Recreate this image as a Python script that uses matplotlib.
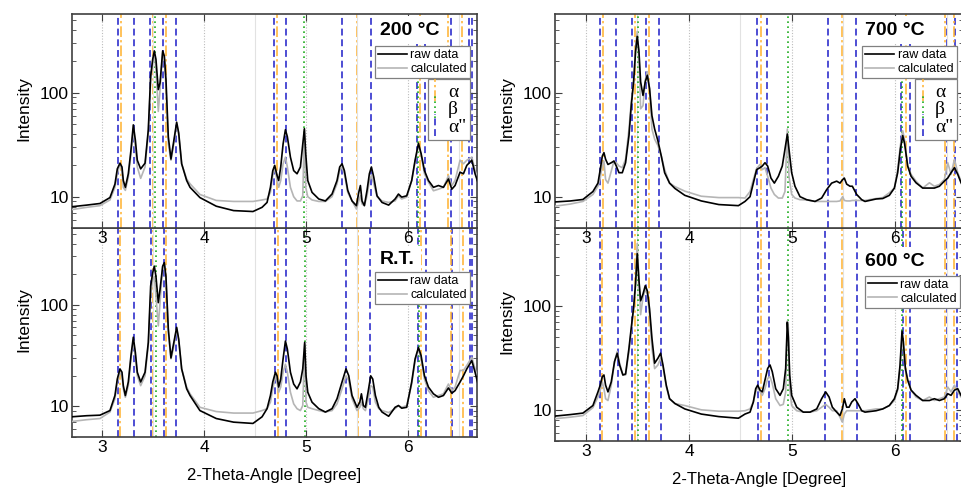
import matplotlib
matplotlib.use('Agg')
import matplotlib.pyplot as plt
from matplotlib.lines import Line2D
from matplotlib.legend_handler import HandlerBase
from matplotlib.ticker import FuncFormatter, NullFormatter, MultipleLocator, LogLocator

plt.rcParams['font.family'] = ['Liberation Sans', 'DejaVu Sans']

# ---- 200 °C ----
tt_200 = [2.70, 2.85, 2.98, 3.078, 3.127, 3.150, 3.176, 3.196, 3.209, 3.229,
          3.258, 3.284, 3.307, 3.327, 3.346, 3.379, 3.422, 3.454, 3.477, 3.497,
          3.513, 3.529, 3.552, 3.569, 3.595, 3.611, 3.627, 3.650, 3.676, 3.699,
          3.732, 3.752, 3.781, 3.830, 3.863, 3.96, 4.12, 4.29, 4.48, 4.569,
          4.618, 4.651, 4.674, 4.693, 4.716, 4.732, 4.752, 4.775, 4.798, 4.817,
          4.847, 4.879, 4.912, 4.945, 4.968, 4.984, 4.997, 5.017, 5.059, 5.125,
          5.190, 5.255, 5.304, 5.330, 5.353, 5.376, 5.409, 5.451, 5.494, 5.517,
          5.533, 5.549, 5.572, 5.598, 5.621, 5.641, 5.664, 5.696, 5.745, 5.81,
          5.873, 5.906, 5.938, 5.987, 6.036, 6.069, 6.102, 6.128, 6.161, 6.200,
          6.249, 6.298, 6.347, 6.396, 6.429, 6.461, 6.510, 6.543, 6.576, 6.625,
          6.657, 6.690]
raw_200 = [8.0, 8.3, 8.6, 9.8, 13.2, 18.5, 21, 19.3, 14.3, 12.3,
           16.6, 28, 49, 35, 22.4, 18.5, 21, 44, 144, 209,
           252, 209, 107, 124, 252, 225, 134, 37.7, 23, 32,
           52, 41, 20.7, 14.3, 12.3, 9.8, 8.1, 7.35, 7.2, 7.9,
           8.8, 12.3, 17.8, 20, 16, 14.3, 19.3, 32, 44, 37.7,
           24, 17.8, 16.6, 19.3, 32, 45, 26, 14.3, 11, 9.5,
           9.1, 10.6, 14.3, 19.3, 20.7, 17.8, 11.5, 9.1, 8.2, 11,
           12.8, 9.1, 8.2, 11.5, 16.6, 19.3, 15.4, 10.2, 8.8, 8.3,
           9.5, 10.6, 9.9, 10.2, 14.3, 22.4, 32.5, 26, 17.8, 14.3,
           12.3, 12.8, 12.3, 14.8, 11.8, 12.8, 17.2, 16.6, 20, 22.4,
           16.6, 13.3]
calc_200 = [7.5, 7.9, 8.2, 9.3, 12.3, 16.6, 20.7, 17.8, 12.3, 11.5,
            15.4, 25.9, 45, 30, 19.3, 15, 19.3, 41, 134, 194,
            234, 167, 66, 107, 243, 217, 115, 32, 22.4, 30,
            50, 39, 20.7, 14.8, 13.3, 10.5, 9.2, 9.0, 9.0, 9.3,
            9.5, 11, 16, 19.3, 14.3, 12.3, 14.3, 20.7, 24, 19.3,
            12.3, 10, 9.1, 9.1, 10.2, 44, 12.3, 10, 9.3, 9.0,
            9.0, 10, 13.3, 17.8, 19.3, 16.6, 11, 9.1, 7.6, 9.1,
            10.2, 8.5, 8.2, 10.2, 14.3, 16, 13.3, 10, 9.1, 8.8,
            9.1, 10.2, 9.5, 9.9, 14.3, 21.6, 31.4, 25, 16.6, 13.8,
            11.4, 11.8, 12.3, 15.9, 12.8, 14.3, 22.4, 20.7, 22.4, 24,
            17.8, 14.3]
a2_200 = [3.16, 3.31, 3.47, 3.60, 3.73, 4.69, 4.80, 5.35, 5.64, 6.09, 6.17, 6.42, 6.60, 6.63]
a_200 = [3.19, 3.50, 3.63, 4.72, 5.50, 6.12, 6.39, 6.53]
b_200 = [3.52, 4.98, 6.10]

# ---- R.T. ----
tt_rt = [2.70, 2.85, 2.98, 3.078, 3.127, 3.150, 3.176, 3.196, 3.209, 3.229,
         3.258, 3.284, 3.307, 3.327, 3.346, 3.379, 3.422, 3.454, 3.477, 3.497,
         3.513, 3.529, 3.552, 3.569, 3.595, 3.611, 3.627, 3.650, 3.676, 3.699,
         3.732, 3.752, 3.781, 3.830, 3.863, 3.96, 4.12, 4.29, 4.48, 4.569,
         4.618, 4.651, 4.674, 4.700, 4.716, 4.732, 4.752, 4.775, 4.798, 4.817,
         4.847, 4.879, 4.912, 4.945, 4.968, 4.987, 5.000, 5.017, 5.059, 5.125,
         5.190, 5.255, 5.304, 5.353, 5.392, 5.419, 5.451, 5.500, 5.527, 5.543,
         5.562, 5.582, 5.608, 5.634, 5.654, 5.680, 5.713, 5.745, 5.81, 5.873,
         5.906, 5.938, 5.987, 6.036, 6.069, 6.102, 6.128, 6.161, 6.200, 6.249,
         6.298, 6.347, 6.396, 6.429, 6.461, 6.510, 6.543, 6.576, 6.625, 6.657,
         6.690]
raw_rt = [7.9, 8.1, 8.2, 9.1, 12.8, 18.6, 23.4, 21.7, 16, 12.8,
          17.4, 31.6, 48, 34, 21.7, 17.4, 21.7, 42.7, 153, 207,
          240, 190, 105, 142, 240, 260, 190, 58, 30, 40,
          60, 46, 23.4, 14.9, 12.8, 9.1, 7.6, 7.0, 6.8, 7.9,
          9.5, 12.8, 17.4, 21.7, 20, 15.5, 18.6, 29.3, 44, 36.7,
          21.7, 16.6, 14.9, 17.4, 23.4, 42.7, 20, 13.8, 11, 9.5,
          8.8, 9.5, 11.9, 17.4, 23.4, 20, 12.8, 9.8, 11, 13.3,
          10.2, 9.8, 13.8, 20, 18.6, 12.8, 9.8, 8.8, 8.0, 9.8,
          10.2, 9.6, 9.8, 17.4, 29.3, 38, 31.6, 20, 15.5, 13.3,
          12.3, 12.8, 15.2, 13.5, 14.3, 17.4, 20, 23.4, 28.2, 21.7,
          16]
calc_rt = [7.1, 7.4, 7.6, 8.8, 11.9, 17.4, 21.7, 20, 14.9, 12.3,
           16, 29.4, 44, 31.6, 20, 16, 20, 40, 122, 178,
           190, 122, 62, 105, 240, 250, 178, 54, 29.4, 36.7,
           58, 44, 23.4, 15.5, 13.3, 9.8, 8.9, 8.6, 8.6, 9.1,
           9.5, 11, 14.9, 20, 17.4, 13.8, 15.5, 21.7, 26, 21.7,
           13.8, 10.6, 9.5, 9.1, 10.2, 41, 11, 9.8, 9.5, 9.1,
           8.8, 9.1, 10.6, 14.9, 20, 18, 11.9, 9.1, 9.8, 11,
           9.5, 9.1, 11.5, 16, 15.5, 11, 9.5, 9.1, 8.7, 9.5,
           10.2, 9.8, 10.2, 16.6, 28.2, 36.7, 29.3, 18.6, 14.3, 12.3,
           12.8, 13.3, 16.6, 14.3, 15.5, 22.6, 22.6, 25.3, 30.5, 23.4,
           18]
a2_rt = [3.16, 3.31, 3.48, 3.61, 3.73, 4.70, 4.80, 5.39, 5.63, 6.10, 6.18, 6.43, 6.61, 6.63]
a_rt = [3.18, 3.50, 3.63, 4.73, 5.51, 6.13, 6.42, 6.54]
b_rt = [3.53, 4.99, 6.11]

# ---- 700 °C ----
tt_700 = [2.70, 2.85, 2.971, 3.068, 3.117, 3.139, 3.159, 3.175, 3.191, 3.214,
          3.246, 3.272, 3.295, 3.321, 3.353, 3.385, 3.418, 3.440, 3.463, 3.482,
          3.498, 3.515, 3.531, 3.554, 3.576, 3.596, 3.618, 3.641, 3.667, 3.699,
          3.732, 3.764, 3.812, 3.864, 3.96, 4.12, 4.29, 4.48, 4.544, 4.593,
          4.625, 4.657, 4.690, 4.712, 4.738, 4.764, 4.796, 4.829, 4.868, 4.906,
          4.932, 4.955, 4.971, 4.997, 5.029, 5.078, 5.143, 5.224, 5.288, 5.337,
          5.385, 5.434, 5.466, 5.492, 5.508, 5.531, 5.563, 5.586, 5.628, 5.677,
          5.709, 5.816, 5.881, 5.945, 5.994, 6.026, 6.052, 6.075, 6.094, 6.123,
          6.156, 6.204, 6.269, 6.334, 6.382, 6.431, 6.479, 6.512, 6.544, 6.577,
          6.609, 6.641, 6.67]
raw_700 = [8.9, 9.1, 9.4, 11.2, 13.5, 18.2, 24.5, 26.5, 22.9, 20.4,
           21.2, 22, 19.7, 17, 17, 21.2, 38.6, 75, 127, 248,
           347, 248, 127, 94, 127, 147, 109, 60, 44.7, 34.4,
           24.5, 17, 13.5, 12, 10.3, 9.1, 8.4, 8.2, 9.0, 10,
           13.5, 18.2, 19, 19.7, 21.2, 19.7, 15.1, 13.5, 15.7, 19.7,
           28.6, 40, 28.6, 17, 12.6, 10.0, 9.35, 9.0, 9.7, 11.7,
           13.5, 14.1, 13.5, 14.6, 15.1, 13.2, 12.6, 12.6, 10.5, 9.35,
           9.0, 9.5, 9.6, 10.3, 12.1, 17, 28.6, 38.6, 32, 19.7,
           15.7, 13.6, 12.1, 12.1, 12.1, 12.6, 14.1, 15.1, 17, 19,
           16.4, 13.6, 12]
calc_700 = [8.1, 8.5, 9.0, 10.5, 12.6, 15.1, 20.4, 22, 14.6, 13.5,
            17.6, 22, 21.2, 19.7, 19, 22.9, 44.7, 81, 127, 267,
            388, 230, 70, 75, 132, 159, 109, 44.7, 35.7, 31,
            24.5, 18.2, 13.5, 12.5, 11.3, 10.1, 9.8, 9.8, 9.7, 11.2,
            14.6, 18.6, 20.4, 18.2, 19, 15.7, 12.1, 10.5, 9.7, 9.7,
            11.2, 44.7, 15.7, 10.5, 9.7, 9.35, 9.3, 9.0, 9.0, 9.0,
            9.0, 9.0, 9.1, 10.0, 9.2, 9.1, 9.1, 9.2, 9.2, 9.2,
            9.2, 9.6, 9.8, 10.9, 12.1, 18.3, 31, 43, 34.4, 19.7,
            16.4, 14.1, 12.1, 13.6, 12.6, 13.1, 14.6, 21.2, 16.4, 22.9,
            17, 14.1, 13]
a2_700 = [3.14, 3.29, 3.45, 3.58, 3.71, 4.66, 4.76, 5.35, 5.62, 6.055, 6.15, 6.50, 6.58]
a_700 = [3.17, 3.48, 3.61, 4.70, 5.49, 6.11, 6.49, 6.57]
b_700 = [3.51, 4.96, 6.07]

# ---- 600 °C ----
tt_600 = [2.70, 2.85, 2.971, 3.068, 3.117, 3.139, 3.159, 3.175, 3.191, 3.214,
          3.246, 3.278, 3.304, 3.327, 3.359, 3.385, 3.418, 3.440, 3.463, 3.482,
          3.498, 3.515, 3.531, 3.554, 3.576, 3.596, 3.618, 3.641, 3.667, 3.699,
          3.725, 3.748, 3.780, 3.812, 3.864, 3.96, 4.12, 4.29, 4.48, 4.544,
          4.593, 4.625, 4.648, 4.667, 4.690, 4.712, 4.738, 4.764, 4.787, 4.809,
          4.842, 4.884, 4.916, 4.939, 4.955, 4.965, 4.978, 4.997, 5.046, 5.110,
          5.175, 5.240, 5.288, 5.327, 5.360, 5.392, 5.434, 5.466, 5.489, 5.508,
          5.531, 5.554, 5.580, 5.612, 5.644, 5.677, 5.709, 5.816, 5.881, 5.945,
          5.994, 6.026, 6.049, 6.068, 6.081, 6.101, 6.123, 6.156, 6.204, 6.269,
          6.334, 6.382, 6.431, 6.479, 6.512, 6.544, 6.577, 6.609, 6.641, 6.67]
raw_600 = [8.7, 9.0, 9.3, 11, 14.9, 17.3, 20.9, 21.7, 17.3, 14.9,
           18.6, 29.3, 35.2, 27.1, 21.7, 22.2, 39.4, 61.9, 97, 164,
           322, 177, 113, 131, 158, 141, 94, 49, 28.2, 31.5,
           35.2, 27.1, 17.3, 12.8, 11.5, 10.2, 9.1, 8.6, 8.3, 9.1,
           9.5, 11.9, 16, 17.3, 15.5, 14.9, 19.4, 25.1, 27.1, 23.3,
           16, 13.8, 16, 25.1, 70, 50, 21.7, 13.8, 10.6, 9.5,
           9.5, 10.2, 12.8, 14.9, 13.3, 10.6, 9.5, 8.8, 10.2, 12.8,
           10.6, 10.6, 11.9, 12.8, 11.3, 9.8, 9.5, 9.8, 10.2, 11,
           12.8, 16, 27.1, 57.5, 45.7, 25.1, 19.4, 15.5, 13.8, 12.3,
           12.3, 12.8, 12.3, 12.8, 14.3, 13.8, 15.5, 16, 13.8, 12.5]
calc_600 = [8.2, 8.5, 8.8, 10.5, 13.3, 15.5, 18.6, 16, 12.8, 12.3,
            17.3, 29.3, 36.6, 28.2, 21.7, 21.7, 36.6, 57.5, 94, 177,
            404, 177, 83, 122, 146, 131, 83, 39.4, 25, 27.1,
            31.5, 26.2, 16.7, 12.8, 11.5, 11, 10, 9.7, 9.7, 9.8,
            10.2, 11.9, 14.9, 16.6, 14.9, 13.8, 16, 20.1, 20.9, 17.9,
            12.8, 11, 11.3, 14.9, 72, 62, 16, 11, 9.8, 9.5,
            9.5, 9.8, 10.6, 11.3, 10.6, 9.8, 9.8, 8.5, 7.6, 9.1,
            9.8, 9.8, 9.8, 9.8, 9.8, 9.8, 9.8, 10.2, 10.2, 11,
            12.3, 15.5, 25.1, 49.4, 39.4, 24.2, 19.4, 15.5, 13.3, 12.3,
            13.3, 12.3, 12.8, 13.3, 16.6, 14.9, 17.3, 14.9, 13.3, 12.5]
a2_600 = [3.14, 3.31, 3.45, 3.58, 3.73, 4.67, 4.78, 5.32, 5.63, 6.08, 6.15, 6.50, 6.60]
a_600 = [3.16, 3.48, 3.61, 4.70, 5.49, 6.11, 6.49, 6.57]
b_600 = [3.51, 4.96, 6.07]

BLUE = '#1c1cc8'
ORANGE = '#ffb22e'
GREEN = '#1fae1f'
ls_a2 = (0, (4.5, 2.5))
ls_a = (0, (7, 2, 1.5, 2))
ls_b = (0, (1, 2))


class VLineHandler(HandlerBase):
    # draws the legend key as a short vertical line
    def create_artists(self, legend, orig_handle, xdescent, ydescent,
                       width, height, fontsize, trans):
        x = width / 2 - xdescent
        line = Line2D([x, x], [-ydescent - 0.3 * height, 1.3 * height])
        line.update_from(orig_handle)
        line.set_transform(trans)
        return [line]


fig = plt.figure(figsize=(9.61, 4.91), dpi=100)
W, H = 961.0, 491.0


def box(l, t, r, b):
    return [l / W, 1 - b / H, (r - l) / W, (b - t) / H]


def draw(ax, tt, raw, calc, a2, a, b, title, title_y, xlim, leg_top, leg_right, phase_legend):
    for v in a2:
        ax.axvline(v, color=BLUE, ls=ls_a2, lw=1.1, zorder=1.5)
    for v in a:
        ax.axvline(v, color=ORANGE, ls=ls_a, lw=1.1, zorder=1.5)
    for v in b:
        ax.axvline(v, color=GREEN, ls=ls_b, lw=1.2, zorder=1.6)
    l_calc, = ax.plot(tt, calc, color='#b5b5b5', lw=1.2, zorder=3)
    l_raw, = ax.plot(tt, raw, color='black', lw=1.2, zorder=4)

    ax.set_yscale('log')
    ax.set_ylim(5, 570)
    ax.set_xlim(*xlim)
    ax.set_xticks([3, 4, 5, 6])
    ax.xaxis.set_minor_locator(MultipleLocator(0.5))
    ax.yaxis.set_major_locator(LogLocator(base=10, subs=[1.0]))
    ax.yaxis.set_minor_locator(LogLocator(base=10, subs=[2, 3, 4, 5, 6, 7, 8, 9]))
    ax.yaxis.set_major_formatter(FuncFormatter(lambda v, p: '%g' % v))
    ax.yaxis.set_minor_formatter(NullFormatter())
    ax.grid(axis='x', which='major', color='#bdbdbd', ls=(0, (1, 1.5)), lw=0.8, zorder=0)
    ax.grid(axis='x', which='minor', color='#e2e2e2', ls='-', lw=0.8, zorder=0)
    ax.tick_params(which='both', direction='in', top=True, right=True,
                   labelsize=12.5, pad=2.5, color='#404040')
    ax.tick_params(which='major', length=5)
    ax.tick_params(which='minor', length=3)
    ax.tick_params(axis='x', which='minor', length=0)
    for s in ax.spines.values():
        s.set_color('#404040')
        s.set_linewidth(1.2)
    ax.set_ylabel('Intensity', fontsize=12.5)
    ax.yaxis.set_label_coords(-0.10, 0.56)

    ax.text(0.76, title_y, title, transform=ax.transAxes, fontsize=14,
            fontweight='bold', ha='left', va='center', zorder=6,
            bbox=dict(facecolor='white', edgecolor='none', boxstyle='square,pad=0.3'))

    leg = ax.legend([l_raw, l_calc], ['raw data', 'calculated'], loc='upper right',
                    bbox_to_anchor=(leg_right, leg_top), borderaxespad=0, fontsize=9,
                    handlelength=2.3, handletextpad=0.3, borderpad=0.25, labelspacing=0.15,
                    fancybox=False, framealpha=1, edgecolor='#808080')
    leg.get_frame().set_linewidth(0.9)
    leg.set_zorder(7)
    if phase_legend:
        ax.add_artist(leg)
        h_a = Line2D([], [], color=ORANGE, ls=ls_a, lw=1.1)
        h_b = Line2D([], [], color=GREEN, ls=ls_b, lw=1.2)
        h_a2 = Line2D([], [], color=BLUE, ls=ls_a2, lw=1.1)
        leg2 = ax.legend([h_a, h_b, h_a2], ['α', 'β', 'α"'], loc='upper right',
                         bbox_to_anchor=(leg_right, leg_top - 0.154), borderaxespad=0,
                         prop={'family': 'Liberation Serif', 'size': 14},
                         handler_map={Line2D: VLineHandler()},
                         handlelength=0.4, handletextpad=0.45, borderpad=0.2,
                         labelspacing=0.0, fancybox=False, framealpha=1,
                         edgecolor='#808080')
        leg2.get_frame().set_linewidth(0.9)
        leg2.set_zorder(7)


ax_200 = fig.add_axes(box(72, 14, 477, 228))
ax_rt = fig.add_axes(box(72, 228, 477, 437))
ax_700 = fig.add_axes(box(555, 14, 963, 228))
ax_600 = fig.add_axes(box(555, 228, 963, 441))
# upper panels drawn last so their tick labels sit on top of the lower panels
ax_200.set_zorder(2)
ax_700.set_zorder(2)

draw(ax_200, tt_200, raw_200, calc_200, a2_200, a_200, b_200, '200 °C', 0.925,
     (2.706, 6.676), 0.85, 0.983, True)
draw(ax_rt, tt_rt, raw_rt, calc_rt, a2_rt, a_rt, b_rt, 'R.T.', 0.847,
     (2.706, 6.676), 0.79, 0.983, False)
draw(ax_700, tt_700, raw_700, calc_700, a2_700, a_700, b_700, '700 °C', 0.925,
     (2.70, 6.66), 0.85, 0.986, True)
draw(ax_600, tt_600, raw_600, calc_600, a2_600, a_600, b_600, '600 °C', 0.842,
     (2.70, 6.66), 0.776, 0.993, False)

for ax in (ax_rt, ax_600):
    ax.set_xlabel('2-Theta-Angle [Degree]', fontsize=12, labelpad=9)

fig.savefig('out.png', dpi=100)
